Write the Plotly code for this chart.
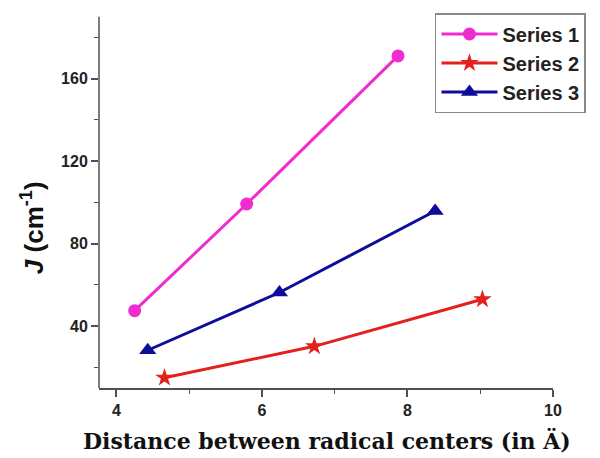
import plotly.graph_objects as go

series_names = ["Series 1", "Series 2", "Series 3"]
s1_x = [4.25, 5.79, 7.87]
s1_y = [47.5, 99.2, 171.0]
s2_x = [4.66, 6.72, 9.03]
s2_y = [15.0, 30.2, 53.0]
s3_x = [4.43, 6.24, 8.38]
s3_y = [28.3, 56.3, 95.8]

colors = ["#F02BD0", "#E4201C", "#0D0D9C"]
symbols = ["circle", "star", "triangle-up"]
sizes = [13, 14, 15]

y_axis_top = 190

fig = go.Figure()
for name, xs, ys, c, sym, sz in zip(series_names, [s1_x, s2_x, s3_x], [s1_y, s2_y, s3_y], colors, symbols, sizes):
    fig.add_trace(go.Scatter(
        x=xs, y=ys, mode="lines+markers", name=name,
        line=dict(color=c, width=3),
        marker=dict(symbol=sym, size=sz, color=c, line=dict(width=0)),
    ))

tickfont = dict(family="Liberation Sans, Arial", size=16, color="#222222")
axcol = "#505050"
fig.update_layout(
    width=592, height=450,
    margin=dict(l=91, r=47, t=5, b=70),
    paper_bgcolor="white", plot_bgcolor="white",
    showlegend=True,
    legend=dict(
        x=0.74, y=1.0, xanchor="left", yanchor="top",
        bordercolor="#888888", borderwidth=1.5, bgcolor="white",
        font=dict(family="Liberation Sans, Arial", size=20, color="#222222", weight="bold"),
        tracegroupgap=0, itemwidth=56,
    ),
    xaxis=dict(
        range=[3.76, 10.0], showgrid=False, zeroline=False,
        showline=True, linecolor=axcol, linewidth=1.5,
        tickmode="array", tickvals=[4, 6, 8, 10], ticktext=["<b>4</b>", "<b>6</b>", "<b>8</b>", "<b>10</b>"],
        ticks="outside", ticklen=7, tickwidth=1.5, tickcolor=axcol,
        minor=dict(tickvals=[5, 7, 9], ticks="outside", ticklen=4, tickwidth=1.2, tickcolor=axcol),
        tickfont=tickfont,
    ),
    yaxis=dict(
        range=[10, 191.8], showgrid=False, zeroline=False,
        showline=False,
        tickmode="array", tickvals=[40, 80, 120, 160], ticktext=["<b>40</b>", "<b>80</b>", "<b>120</b>", "<b>160</b>"],
        ticks="outside", ticklen=7, tickwidth=1.5, tickcolor=axcol,
        minor=dict(tickvals=[20, 60, 100, 140, 180], ticks="outside", ticklen=4, tickwidth=1.2, tickcolor=axcol),
        tickfont=tickfont,
    ),
    shapes=[
        dict(type="line", xref="paper", yref="y", x0=0, x1=0, y0=10, y1=y_axis_top,
             line=dict(color=axcol, width=1.5)),
    ],
    annotations=[
        dict(text="<b>Distance between radical centers (in Ä)</b>", xref="paper", yref="paper",
             x=0.503, y=-0.1387, xanchor="center", yanchor="middle", showarrow=False,
             font=dict(family="DejaVu Serif", size=22, color="#111111")),
        dict(text="<b><i>J</i> (cm<sup>-1</sup>)</b>", xref="paper", yref="paper",
             x=-0.145, y=0.4267, xanchor="center", yanchor="middle", showarrow=False, textangle=-90,
             font=dict(family="Liberation Sans, Arial", size=26, color="#111111")),
    ],
)

fig.write_html("out.html")
